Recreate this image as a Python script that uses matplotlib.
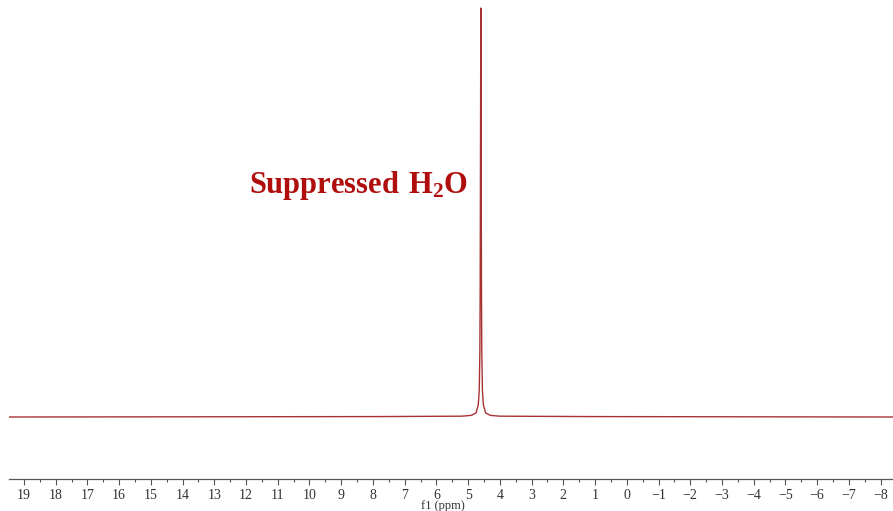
import numpy as np
import matplotlib
matplotlib.use('Agg')
import matplotlib.pyplot as plt
from matplotlib.ticker import MultipleLocator

plt.rcParams['mathtext.fontset'] = 'custom'
plt.rcParams['mathtext.rm'] = 'Liberation Serif'
plt.rcParams['mathtext.bf'] = 'Liberation Serif:bold'

# 1H spectrum, water signal only (ppm, normalised intensity)
ppm = [19.47, 8.0, 5.2, 4.90, 4.75, 4.68, 4.65, 4.63, 4.62, 4.61, 4.60,
       4.59, 4.58, 4.57, 4.55, 4.52, 4.45, 4.30, 4.0, 1.0, -8.39]
intensity = [0.0, 0.001, 0.002, 0.004, 0.010, 0.030, 0.065, 0.16, 0.32, 0.66, 1.0,
             0.66, 0.32, 0.16, 0.065, 0.030, 0.010, 0.004, 0.002, 0.001, 0.0]

peak_label = r'$\mathbf{Suppressed\ H_2O}$'
label_pos = (8.47, 0.565)

line_color = '#a83232'
text_color = '#b00d0d'

fig = plt.figure(figsize=(8.93, 5.11), dpi=100)
ax = fig.add_axes([9 / 893, 1 - 479 / 511, 884 / 893, 479 / 511])

ax.plot(ppm, intensity, color=line_color, lw=1.0)
ax.set_xlim(19.47, -8.39)
ax.set_ylim(-0.1516, 1.0196)

ax.text(label_pos[0], label_pos[1], peak_label, color=text_color,
        fontsize=22, ha='center', va='center')

for side in ('top', 'left', 'right'):
    ax.spines[side].set_visible(False)
ax.spines['bottom'].set_color('#555555')
ax.spines['bottom'].set_linewidth(0.9)
ax.set_yticks([])

ax.xaxis.set_major_locator(MultipleLocator(1))
ax.xaxis.set_minor_locator(MultipleLocator(0.5))
ax.tick_params(axis='x', which='major', length=4, width=0.8, color='#555555',
               pad=3, labelsize=10, labelcolor='#333333')
ax.tick_params(axis='x', which='minor', length=2, width=0.8, color='#555555')
for lbl in ax.get_xticklabels():
    lbl.set_family('Liberation Serif')

ax.set_xlabel('f1 (ppm)', family='Liberation Serif', fontsize=9, color='#333333')
ax.xaxis.set_label_coords(434 / 884, -21 / 479)

fig.savefig('out.png', dpi=100)
